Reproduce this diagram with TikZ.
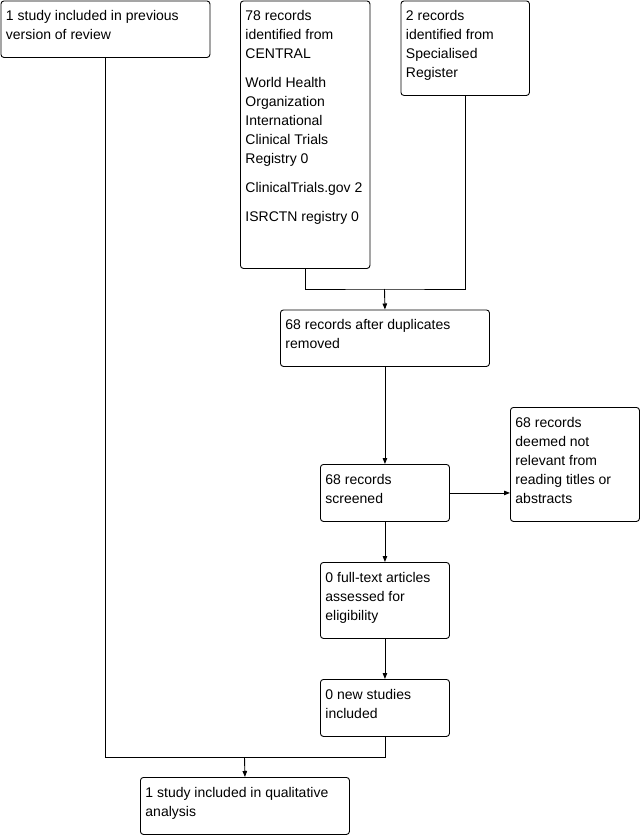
\documentclass[tikz,border=0pt]{standalone}
\usepackage{fontspec}
\setmainfont{Liberation Sans}
\usetikzlibrary{arrows.meta}
\newcommand{\bxtext}[3]{\parbox[t][#2][t]{#1}{\raggedright\fontsize{14}{19}\selectfont\rule{0pt}{20pt}\ignorespaces #3}}
\tikzset{
  box/.style={draw, line width=0.9pt, rounded corners=3pt, inner xsep=5pt, inner ysep=0pt, anchor=north west},
  conn/.style={line width=0.9pt},
  arr/.style={line width=0.9pt, -{Triangle[length=6pt,width=4.5pt]}}
}
\begin{document}
\begin{tikzpicture}[x=1pt,y=-1pt]
\useasboundingbox (0,0) rectangle (641,835);
\node[box] (A) at (0.5,0.5) {\bxtext{199pt}{56.5pt}{1 study included in previous\\version of review}};
\node[box] (B) at (240,0.5) {\bxtext{119.5pt}{267.5pt}{78 records\\identified from\\CENTRAL\\[10pt]World Health\\Organization\\International\\Clinical Trials\\Registry 0\\[10pt]ClinicalTrials.gov 2\\[10pt]ISRCTN registry 0}};
\node[box] (C) at (400.5,0.5) {\bxtext{118.5pt}{94.5pt}{2 records\\identified from\\Specialised\\Register}};
\node[box] (D) at (280,309.5) {\bxtext{199pt}{56.5pt}{68 records after duplicates\\removed}};
\node[box] (E) at (320,464) {\bxtext{119pt}{57pt}{68 records\\screened}};
\node[box] (F) at (510,407) {\bxtext{119pt}{114pt}{68 records\\deemed not\\relevant from\\reading titles or\\abstracts}};
\node[box] (G) at (320,562) {\bxtext{119pt}{76pt}{0 full-text articles\\assessed for\\eligibility}};
\node[box] (H) at (320,679) {\bxtext{119pt}{57pt}{0 new studies\\included}};
\node[box] (I) at (140,777) {\bxtext{199pt}{57pt}{1 study included in qualitative\\analysis}};
\coordinate (m1) at (384.5,289);
\coordinate (m2) at (244.5,757);
\draw[conn] (B.south) |- (m1) -| (C.south);
\draw[arr] (m1) -- (D.north);
\draw[arr] (D.south) -- (E.north);
\draw[arr] (E.east) -- (F.west |- E.east);
\draw[arr] (E.south) -- (G.north);
\draw[arr] (G.south) -- (H.north);
\draw[conn] (A.south) |- (m2);
\draw[conn] (H.south) |- (m2);
\draw[arr] (m2) -- (I.north);
\end{tikzpicture}
\end{document}
